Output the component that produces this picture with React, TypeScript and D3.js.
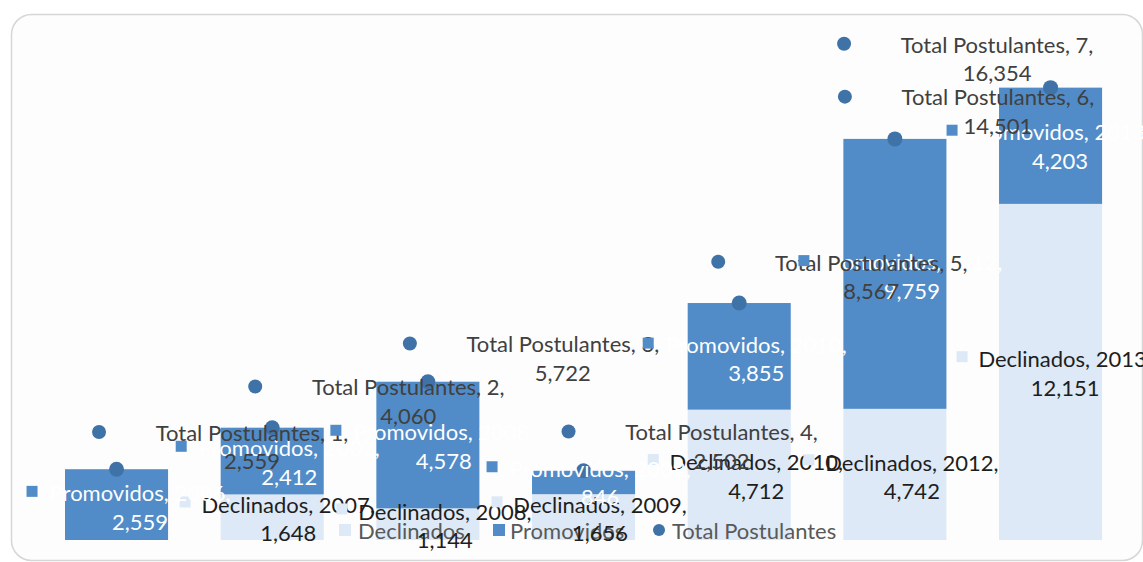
import React from "react";
import * as d3 from "d3";

// Categories and series values
const categories = ["2006", "2007", "2008", "2009", "2010", "2012", "2013"];
const declinados = [0, 1648, 1144, 1656, 4712, 4742, 12151];
const promovidos = [2559, 2412, 4578, 846, 3855, 9759, 4203];
const totalPostulantes = [2559, 4060, 5722, 2502, 8567, 14501, 16354];
const seriesNames = ["Declinados", "Promovidos", "Total Postulantes"];

// Data-label placement: pixel offsets from each label's anchor point
const tpLabelDx = [135.5, 136, 135, 138, 132, 103, -53.5];
const tpLabelDy = [-22, -26, -23, -24, -26, -27, -28.6];
const prLabelDx = [23.5, 17, 16, 16.5, 17, 17, 9.5];
const prLabelDy = [3, 1.5, 1.5, 0.5, 3, 3, 0.7];
const deLabelDx = [null, 16, 17, 16.5, 17, 17, 14.5];
const deLabelDy = [0, 2, 2, 2, 2, 2.6, 2];

const W = 1143;
const H = 562;
const FONT = "Lato, 'Open Sans', sans-serif";
const FS = 22;
const LINE = 28.5;
const CAP = 7.8;

const C_LIGHT = "#dde9f6";
const C_DARK = "#518cc8";
const C_DOT = "#3f72a6";

const fmt = d3.format(",");

type Label = {
  cx: number;
  cy: number;
  lines: string[];
  color: string;
  keyDx: number;
  keyDy: number;
  keyShape: "circle" | "square";
  keyColor: string;
};

function LabelKey({ l }: { l: Label }) {
  const kx = l.cx + l.keyDx;
  const ky = l.cy - LINE / 2 + l.keyDy;
  return l.keyShape === "circle" ? (
    <circle cx={kx} cy={ky} r={7} fill={l.keyColor} />
  ) : (
    <rect x={kx - 5.5} y={ky - 5.5} width={11} height={11} fill={l.keyColor} />
  );
}

function LabelText({ l }: { l: Label }) {
  const y1 = l.cy - LINE / 2;
  return (
    <g>
      {l.lines.map((t, k) => (
        <text
          key={k}
          x={l.cx}
          y={y1 + k * LINE + CAP}
          textAnchor="middle"
          fill={l.color}
          fontFamily={FONT}
          fontSize={FS}
        >
          {t}
        </text>
      ))}
    </g>
  );
}

export default function App() {
  const x = d3
    .scaleBand<string>()
    .domain(categories)
    .range([38.7, 1128.4])
    .paddingInner(0.338)
    .paddingOuter(0.169);
  const y = d3.scaleLinear().domain([0, 18000]).range([540, 42.1]);
  const bw = x.bandwidth();
  const cxOf = (c: string) => (x(c) as number) + bw / 2;

  const deLabels: Label[] = [];
  const tpLabels: Label[] = [];
  const prLabels: Label[] = [];

  categories.forEach((c, i) => {
    const cx = cxOf(c);
    const dx = deLabelDx[i];
    if (dx !== null) {
      const mid = (y(declinados[i]) + y(0)) / 2;
      deLabels.push({
        cx: cx + dx,
        cy: mid + deLabelDy[i],
        lines: [`${seriesNames[0]}, ${c},`, fmt(declinados[i])],
        color: "#1e1e1e",
        keyDx: -103,
        keyDy: -3,
        keyShape: "square",
        keyColor: C_LIGHT,
      });
    }
    const ty = y(totalPostulantes[i]);
    tpLabels.push({
      cx: cx + tpLabelDx[i],
      cy: ty + tpLabelDy[i],
      lines: [`${seriesNames[2]}, ${i + 1},`, fmt(totalPostulantes[i])],
      color: "#404040",
      keyDx: -153,
      keyDy: -1,
      keyShape: "circle",
      keyColor: C_DOT,
    });
    const pm = (y(declinados[i] + promovidos[i]) + y(declinados[i])) / 2;
    prLabels.push({
      cx: cx + prLabelDx[i],
      cy: pm + prLabelDy[i],
      lines: [`${seriesNames[1]}, ${c},`, fmt(promovidos[i])],
      color: "#ffffff",
      keyDx: -108,
      keyDy: -2,
      keyShape: "square",
      keyColor: C_DARK,
    });
  });

  // legend entries
  const legend = [
    { name: seriesNames[0], kx: 345, tx: 358, shape: "square", color: C_LIGHT },
    { name: seriesNames[1], kx: 499, tx: 510, shape: "square", color: C_DARK },
    { name: seriesNames[2], kx: 659, tx: 672, shape: "circle", color: C_DOT },
  ];
  const ly = 531;

  return (
    <svg
      width={W}
      height={H}
      style={{ position: "absolute", left: 0, top: 0, background: "#ffffff" }}
    >
      <rect
        x={11.5}
        y={14.5}
        width={1131}
        height={546}
        rx={20}
        fill="#fdfdfd"
        stroke="#d6d6d6"
        strokeWidth={1.5}
      />
      {/* stacked bars */}
      {categories.map((c, i) => (
        <g key={c}>
          <rect
            x={x(c)}
            y={y(declinados[i])}
            width={bw}
            height={y(0) - y(declinados[i])}
            fill={C_LIGHT}
          />
          <rect
            x={x(c)}
            y={y(declinados[i] + promovidos[i])}
            width={bw}
            height={y(declinados[i]) - y(declinados[i] + promovidos[i])}
            fill={C_DARK}
          />
        </g>
      ))}
      {/* total markers */}
      {categories.map((c, i) => (
        <circle key={c} cx={cxOf(c)} cy={y(totalPostulantes[i])} r={7.5} fill={C_DOT} />
      ))}
      {/* legend */}
      {legend.map((l) => (
        <g key={l.name}>
          {l.shape === "circle" ? (
            <circle cx={l.kx} cy={ly - 1} r={6} fill={l.color} />
          ) : (
            <rect x={l.kx - 6} y={ly - 7} width={12} height={12} fill={l.color} />
          )}
          <text x={l.tx} y={ly + CAP} fill="#595959" fontFamily={FONT} fontSize={FS}>
            {l.name}
          </text>
        </g>
      ))}
      {/* Declinados labels */}
      {deLabels.map((l, i) => (
        <g key={"d" + i}>
          <LabelKey l={l} />
          <LabelText l={l} />
        </g>
      ))}
      {/* Total / Promovidos labels: white text underneath the grey text, keys on top */}
      {tpLabels.map((l, i) => (
        <LabelKey key={"tk" + i} l={l} />
      ))}
      {prLabels.map((l, i) => (
        <LabelText key={"pt" + i} l={l} />
      ))}
      {tpLabels.map((l, i) => (
        <LabelText key={"tt" + i} l={l} />
      ))}
      {prLabels.map((l, i) => (
        <LabelKey key={"pk" + i} l={l} />
      ))}
    </svg>
  );
}
